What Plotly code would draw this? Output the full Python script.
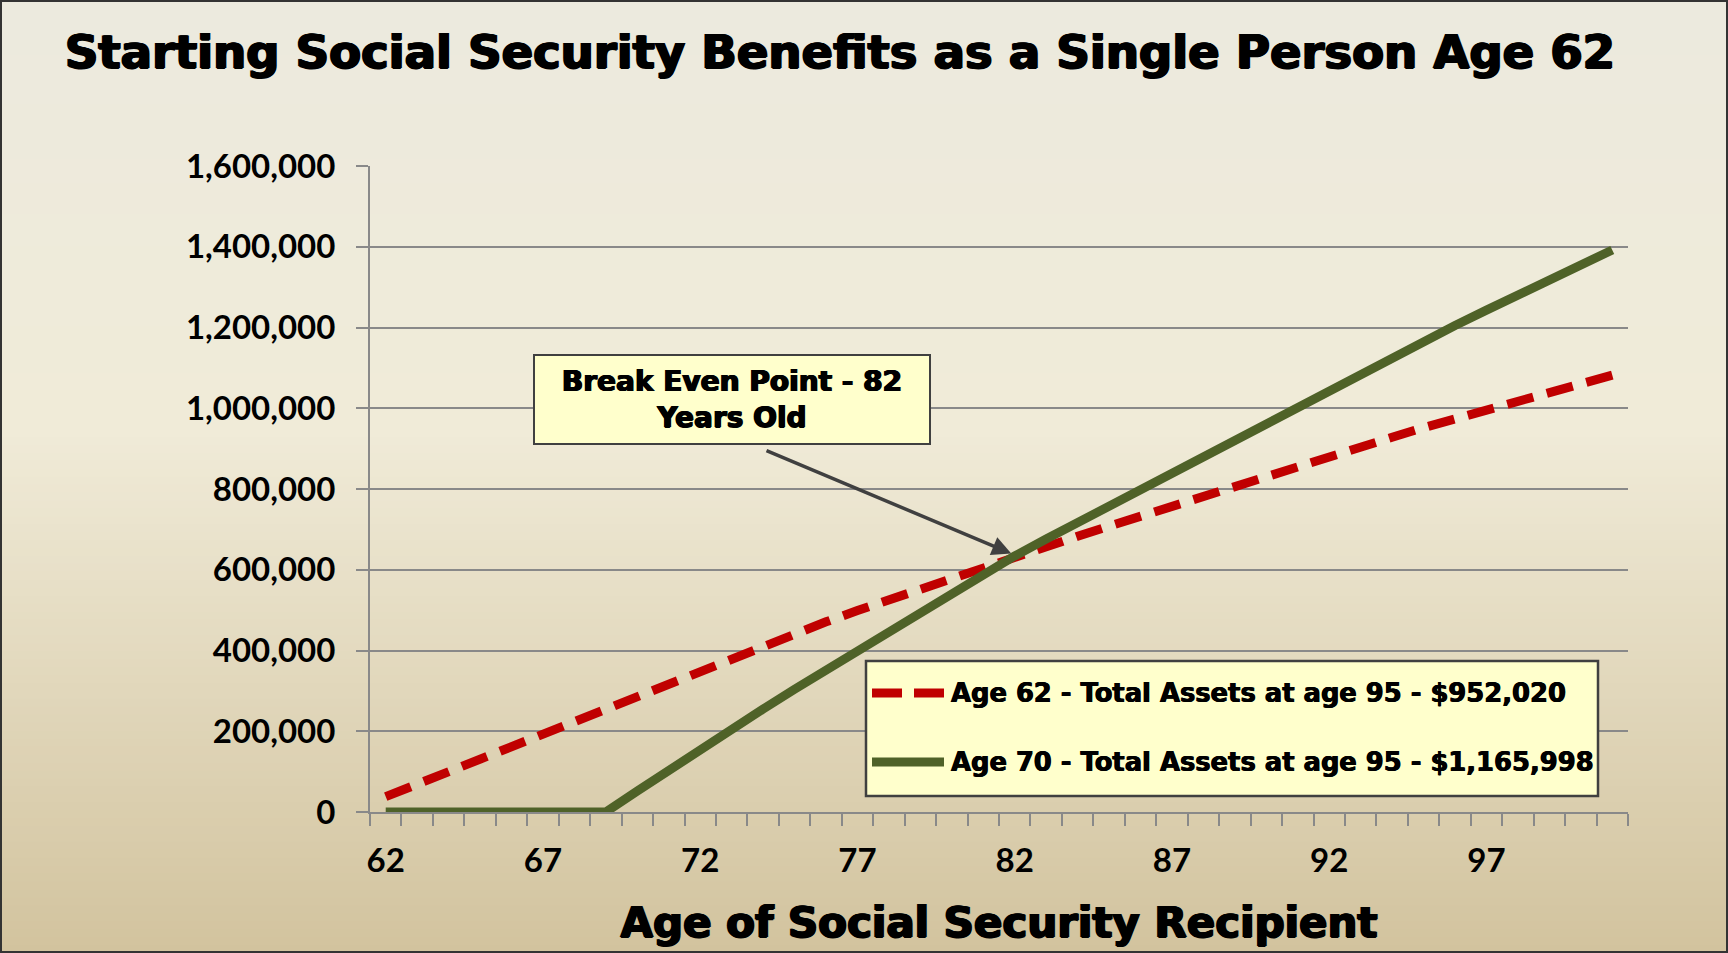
import plotly.graph_objects as go

# ---- data -------------------------------------------------------------
ages = list(range(62, 102))

start_at_62 = [
    38000, 69000, 101000, 132000, 164000, 195000, 227000, 258000, 290000, 321000,
    352000, 383000, 414000, 443000, 471000, 499000, 526000, 553000, 580000, 606000,
    632000, 658000, 683000, 708000, 733000, 757000, 781000, 805000, 830000, 854000,
    879000, 903000, 928000, 952020, 974000, 996000, 1018000, 1039000, 1061000, 1082000,
]
start_at_70 = [
    0, 0, 0, 0, 0, 0, 0, 0, 52000, 104000,
    155000, 205000, 255000, 304000, 352000, 400000, 447000, 494000, 541000, 588000,
    634000, 676000, 717000, 758000, 799000, 840000, 882000, 923000, 964000, 1004000,
    1045000, 1085000, 1126000, 1165998, 1205000, 1243000, 1281000, 1318000, 1355000, 1392000,
]
series_names = [
    "Age 62 - Total Assets at age 95 - $952,020",
    "Age 70 - Total Assets at age 95 - $1,165,998",
]
x_tick_labels = [62, 67, 72, 77, 82, 87, 92, 97]
y_ticks = list(range(0, 1600001, 200000))

# ---- layout geometry (pixels) ------------------------------------------
W, H = 1728, 953
ML, MR, MT, MB = 370, 100, 166, 141
PW, PH = W - ML - MR, H - MT - MB


def px_x(px):
    return (px - ML) / PW


def px_y(py):
    return (H - MB - py) / PH


RED = "#C00000"
GREEN = "#4F6228"
GRID = "#898989"
HEAVY = "DejaVu Sans"
LABEL = "Lato"
# thickens the heavy display text
THICK = "1.1px 0 0 #000, -1.1px 0 0 #000, 0 0.8px 0 #000, 0 -0.4px 0 #000"
MID_THICK = "0.8px 0 0 #000, -0.8px 0 0 #000, 0 0.6px 0 #000"
THIN_THICK = "0.5px 0 0 #000, -0.5px 0 0 #000"


def heavy(size, shadow=THICK):
    return dict(family=HEAVY, size=size, color="black", weight="bold", shadow=shadow)


fig = go.Figure()
fig.add_trace(go.Scatter(
    x=ages, y=start_at_62, mode="lines", name=series_names[0],
    line=dict(color=RED, width=9, dash="27px,14px"), showlegend=False,
))
fig.add_trace(go.Scatter(
    x=ages, y=start_at_70, mode="lines", name=series_names[1],
    line=dict(color=GREEN, width=9), showlegend=False,
))

# ---- background: vertical gradient over the whole page ----------------
stops = [(0.0, (236, 234, 222)), (0.45, (240, 235, 216)), (1.0, (210, 195, 158))]


def grad(t):
    for (t0, c0), (t1, c1) in zip(stops[:-1], stops[1:]):
        if t <= t1:
            f = (t - t0) / (t1 - t0)
            return "rgb(%d,%d,%d)" % tuple(round(a + (b - a) * f) for a, b in zip(c0, c1))
    return "rgb(%d,%d,%d)" % stops[-1][1]


shapes = []
bands = 120
for i in range(bands):
    y0 = H * i / bands
    y1 = H * (i + 1) / bands + 1
    shapes.append(dict(
        type="rect", xref="paper", yref="paper", layer="below",
        x0=px_x(0), x1=px_x(W), y0=px_y(y1), y1=px_y(y0),
        fillcolor=grad((i + 0.5) / bands), line=dict(width=0),
    ))
# page frame
shapes.append(dict(
    type="rect", xref="paper", yref="paper", layer="above",
    x0=px_x(1), x1=px_x(W - 1), y0=px_y(H - 1), y1=px_y(1),
    line=dict(color="#333333", width=2), fillcolor="rgba(0,0,0,0)",
))

# ---- legend box ---------------------------------------------------------
LX0, LX1, LY0, LY1 = 866, 1598, 661, 796
shapes.append(dict(
    type="rect", xref="paper", yref="paper", layer="above",
    x0=px_x(LX0), x1=px_x(LX1), y0=px_y(LY1), y1=px_y(LY0),
    fillcolor="#FFFFCC", line=dict(color="#404040", width=2.5),
))
legend_rows = [(693, RED, "30px,12px"), (762, GREEN, "solid")]
annotations = []
for (ry, col, dash), name in zip(legend_rows, series_names):
    shapes.append(dict(
        type="line", xref="paper", yref="paper", layer="above",
        x0=px_x(872), x1=px_x(944), y0=px_y(ry), y1=px_y(ry),
        line=dict(color=col, width=9, dash=dash),
    ))
    annotations.append(dict(
        xref="paper", yref="paper", x=px_x(949), y=px_y(ry),
        xanchor="left", yanchor="middle", showarrow=False, text=name,
        font=heavy(25.8, THIN_THICK),
    ))

# ---- break-even callout -------------------------------------------------
annotations.append(dict(
    x=81.89, y=640000, ax=74.06, ay=896700, axref="x", ayref="y",
    showarrow=True, arrowhead=2, arrowsize=1.1, arrowwidth=3.5,
    arrowcolor="#404040", text="",
))
annotations.append(dict(
    x=73.0, y=1021600, showarrow=False,
    text="Break Even Point - 82<br>Years Old",
    font=heavy(28, MID_THICK),
    bgcolor="#FFFFCC", bordercolor="#404040", borderwidth=2,
    width=394, height=87, borderpad=0, align="center",
))

fig.update_layout(
    width=W, height=H,
    margin=dict(l=ML, r=MR, t=MT, b=MB, autoexpand=False),
    paper_bgcolor="#EDEADC",
    plot_bgcolor="white",
    showlegend=False,
    title=dict(
        text="Starting Social Security Benefits as a Single Person Age 62",
        x=840 / W, xanchor="center", xref="container",
        y=1 - 52 / H, yanchor="middle", yref="container",
        font=heavy(46.5),
    ),
    xaxis=dict(
        range=[61.5, 101.5], tickmode="array", tickvals=x_tick_labels,
        ticktext=[str(v) for v in x_tick_labels], ticks="",
        showgrid=False, zeroline=False,
        showline=True, linecolor=GRID, linewidth=2,
        tickfont=dict(family=LABEL, size=33, color="black", weight="bold"),
        ticklabelstandoff=18,
        minor=dict(ticks="outside", ticklen=12, tickwidth=1.5, tickcolor=GRID,
                   tickmode="linear", tick0=61.5, dtick=1, showgrid=False),
        title=dict(
            text="Age of Social Security Recipient", standoff=30,
            font=heavy(42),
        ),
    ),
    yaxis=dict(
        range=[0, 1600000], tickmode="array", tickvals=y_ticks,
        tickformat=",", ticks="outside", ticklen=12, tickwidth=1.5, tickcolor=GRID,
        showgrid=True, gridcolor=GRID, gridwidth=1.5, zeroline=False,
        showline=True, linecolor=GRID, linewidth=2,
        tickfont=dict(family=LABEL, size=33, color="black", weight="bold"),
        ticklabelstandoff=14,
    ),
    shapes=shapes,
    annotations=annotations,
)

fig.write_html("out.html")
